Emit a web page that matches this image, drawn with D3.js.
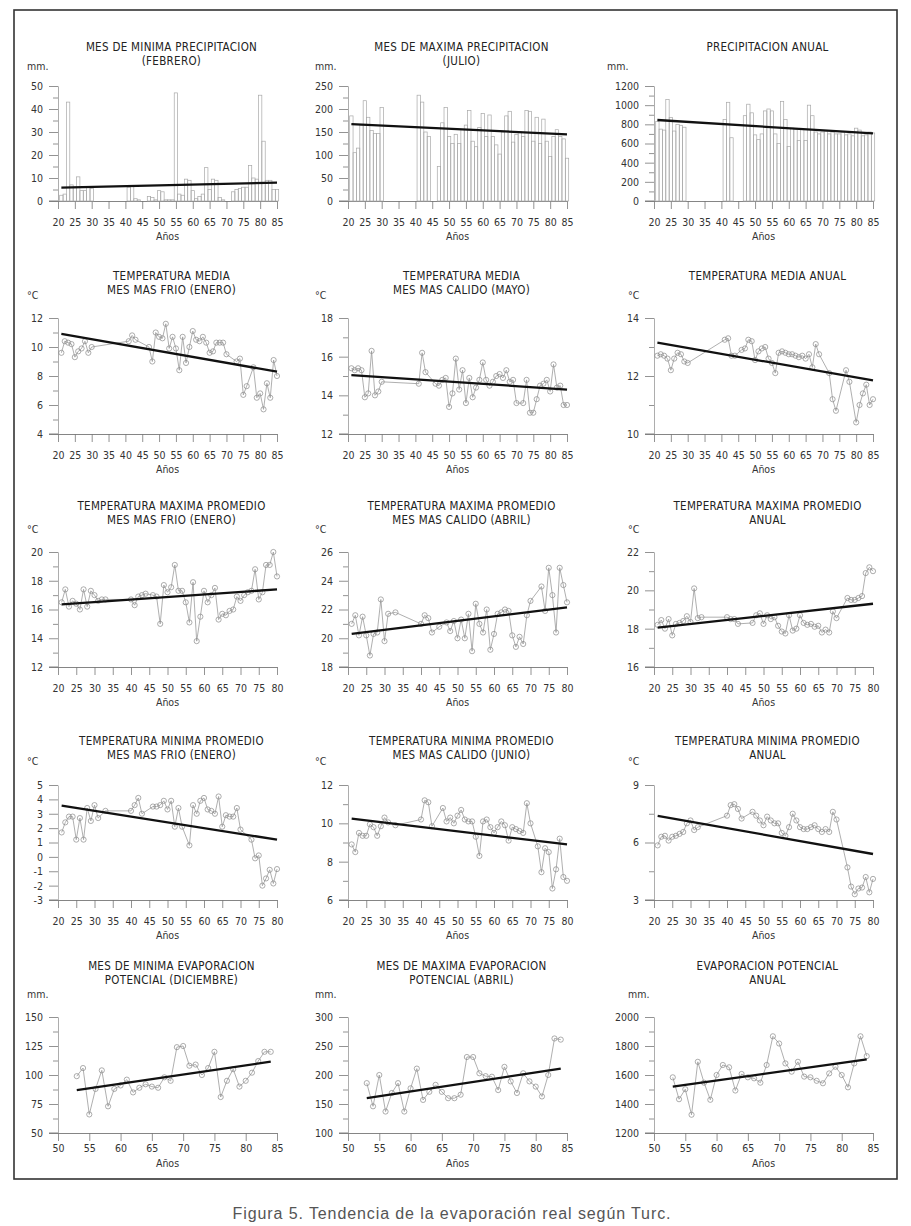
<!DOCTYPE html>
<html>
<head>
<meta charset="utf-8">
<script src="https://cdn.jsdelivr.net/npm/d3@7/dist/d3.min.js"></script>
<style>
    body { margin: 0; background: #fff; }
    svg text { font-family: "Liberation Sans Narrow", "Arial Narrow", "DejaVu Sans Condensed", sans-serif; fill: #333; }
    .title { font-size: 11.5px; fill: #222; letter-spacing: 0.3px; }
    .unit, .anos { font-size: 10.5px; }
    .tick text { font-size: 10.5px; }
    .caption { font-family: "Liberation Sans", Arial, sans-serif; font-size: 16px; fill: #555; letter-spacing: 0.9px; }
</style>
</head>
<body>
<svg width="911" height="1226"></svg>
<script>
// values (years are 19xx)

// x tick labels
const xTicks2085 = [20, 25, 30, 35, 40, 45, 50, 55, 60, 65, 70, 75, 80, 85];
const xTicks2080 = [20, 25, 30, 35, 40, 45, 50, 55, 60, 65, 70, 75, 80];
const xTicks5085 = [50, 55, 60, 65, 70, 75, 80, 85];

// row 1 - precipitation (bars)
const yrsFeb = [21, 22, 23, 24, 25, 26, 27, 28, 29, 30, 41, 42, 43, 44, 45, 46, 47, 48, 49, 50, 51, 52, 53, 54, 55, 56, 57, 58, 59, 60, 61, 62, 63, 64, 65, 66, 67, 68, 69, 70, 71, 72, 73, 74, 75, 76, 77, 78, 79, 80, 81, 82, 83, 84, 85];
const febPrecip = [2.5, 3, 43, 7, 6, 10.5, 4.5, 4.5, 6, 5.5, 6, 6.5, 1, 0.5, 0, 0, 2, 1.5, 0.5, 4.5, 4, 0.5, 0.5, 0.5, 47, 3, 2.5, 9.5, 9, 4.5, 1, 2, 3, 14.5, 5, 9.5, 9, 1.5, 0.5, 0, 0, 4, 5, 5.5, 6, 6, 15.5, 10, 9.5, 46, 26, 9, 9, 5, 5];
const trendFeb = [[21, 5.8], [85, 8.0]];
const ticksFeb = [0, 10, 20, 30, 40, 50];

const yrsJul = [21, 22, 23, 24, 25, 26, 27, 28, 29, 30, 41, 42, 43, 44, 47, 48, 49, 50, 51, 52, 53, 54, 55, 56, 57, 58, 59, 60, 61, 62, 63, 64, 65, 66, 67, 68, 69, 70, 71, 72, 73, 74, 75, 76, 77, 78, 79, 80, 81, 82, 83, 84, 85];
const julPrecip = [185, 105, 115, 165, 218, 182, 153, 147, 147, 203, 230, 215, 150, 140, 75, 170, 203, 140, 125, 145, 125, 155, 165, 197, 130, 118, 160, 190, 140, 187, 140, 122, 102, 150, 185, 195, 128, 145, 150, 140, 197, 195, 130, 182, 125, 178, 130, 97, 140, 155, 140, 135, 93];
const trendJul = [[21, 167], [85, 145]];
const ticksJul = [0, 50, 100, 150, 200, 250];

const yrsAnual = [21, 22, 23, 24, 25, 26, 27, 28, 29, 41, 42, 43, 47, 48, 49, 50, 51, 52, 53, 54, 55, 56, 57, 58, 59, 60, 61, 62, 63, 64, 65, 66, 67, 68, 69, 70, 71, 72, 73, 74, 75, 76, 77, 78, 79, 80, 81, 82, 83, 84, 85];
const anualPrecip = [830, 750, 740, 1060, 870, 730, 800, 790, 770, 850, 1030, 660, 890, 1010, 920, 690, 640, 700, 940, 960, 940, 700, 600, 1040, 850, 570, 760, 750, 630, 750, 630, 1000, 890, 720, 700, 720, 730, 700, 720, 700, 700, 720, 690, 700, 680, 760, 740, 680, 690, 720, 710];
const trendAnual = [[21, 845], [85, 705]];
const ticksAnual = [0, 200, 400, 600, 800, 1000, 1200];

// row 2 - mean temperature
const yrsT1 = [21, 22, 23, 24, 25, 26, 27, 28, 29, 30, 41, 42, 43, 47, 48, 49, 50, 51, 52, 53, 54, 55, 56, 57, 58, 59, 60, 61, 62, 63, 64, 65, 66, 67, 68, 69, 70, 73, 74, 75, 76, 78, 79, 80, 81, 82, 83, 84, 85];
const t1 = [9.6, 10.4, 10.3, 10.2, 9.3, 9.7, 9.9, 10.4, 9.6, 10.0, 10.4, 10.8, 10.5, 10.0, 9.0, 11.0, 10.7, 10.6, 11.6, 9.9, 10.7, 9.9, 8.4, 10.7, 8.9, 10.0, 11.1, 10.5, 10.4, 10.7, 10.3, 9.6, 9.7, 10.3, 10.3, 10.3, 9.5, 9.0, 9.2, 6.7, 7.3, 8.6, 6.5, 6.8, 5.7, 7.5, 6.5, 9.1, 8.0];
const trendT1 = [[21, 10.9], [85, 8.3]];
const ticksT1 = [4, 6, 8, 10, 12];

const yrsT2 = [21, 22, 23, 24, 25, 26, 27, 28, 29, 30, 41, 42, 43, 46, 47, 48, 49, 50, 51, 52, 53, 54, 55, 56, 57, 58, 59, 60, 61, 62, 63, 64, 65, 66, 67, 68, 69, 70, 72, 73, 74, 75, 76, 77, 78, 79, 80, 81, 82, 83, 84, 85];
const t2 = [15.4, 15.3, 15.4, 15.3, 13.9, 14.1, 16.3, 14.0, 14.2, 14.7, 14.6, 16.2, 15.2, 14.6, 14.5, 14.8, 14.9, 13.4, 14.1, 15.9, 14.3, 15.3, 13.6, 14.9, 13.9, 14.4, 14.8, 15.7, 14.8, 14.5, 14.7, 15.0, 15.1, 14.9, 15.3, 14.7, 14.8, 13.6, 13.6, 14.8, 13.1, 13.1, 13.8, 14.5, 14.6, 14.8, 14.2, 15.6, 14.4, 14.5, 13.5, 13.5];
const trendT2 = [[21, 15.05], [85, 14.3]];
const ticksT2 = [12, 14, 16, 18];

const yrsT3 = [21, 22, 23, 24, 25, 26, 27, 28, 29, 30, 41, 42, 43, 44, 46, 47, 48, 49, 50, 51, 52, 53, 54, 55, 56, 57, 58, 59, 60, 61, 62, 63, 64, 65, 66, 67, 68, 69, 72, 73, 74, 77, 78, 80, 81, 82, 83, 84, 85];
const t3 = [12.7, 12.75, 12.7, 12.6, 12.2, 12.6, 12.8, 12.75, 12.5, 12.45, 13.25, 13.3, 12.7, 12.7, 12.9, 12.95, 13.25, 13.2, 12.55, 12.85, 12.95, 13.0, 12.6, 12.45, 12.1, 12.8, 12.85, 12.8, 12.75, 12.75, 12.7, 12.65, 12.7, 12.6, 12.75, 12.3, 13.1, 12.75, 12.1, 11.2, 10.8, 12.2, 11.8, 10.4, 11.0, 11.4, 11.7, 11.0, 11.2];
const trendT3 = [[21, 13.15], [85, 11.85]];
const ticksT3 = [10, 12, 14];

// row 3 - mean maximum temperature
const yrsT4 = [21, 22, 23, 24, 25, 26, 27, 28, 29, 30, 31, 32, 33, 40, 41, 42, 43, 44, 46, 47, 48, 49, 50, 51, 52, 53, 54, 55, 56, 57, 58, 59, 60, 61, 62, 63, 64, 65, 66, 67, 68, 69, 70, 71, 72, 73, 74, 75, 76, 77, 78, 79, 80];
const t4 = [16.5, 17.4, 16.2, 16.6, 16.4, 16.0, 17.4, 16.2, 17.3, 17.0, 16.6, 16.7, 16.7, 16.7, 16.3, 16.9, 17.0, 17.1, 17.0, 16.9, 15.0, 17.7, 17.2, 17.55, 19.1, 17.3, 17.3, 16.5, 15.1, 17.9, 13.8, 15.5, 17.3, 16.5, 17.0, 17.5, 15.3, 15.7, 15.6, 15.9, 16.0, 16.9, 16.6, 17.0, 17.2, 17.3, 18.8, 16.7, 17.2, 19.1, 19.1, 20.0, 18.3];
const trendT4 = [[21, 16.35], [80, 17.4]];
const ticksT4 = [12, 14, 16, 18, 20];

const yrsT5 = [21, 22, 23, 24, 25, 26, 27, 28, 29, 30, 31, 33, 40, 41, 42, 43, 45, 47, 48, 49, 50, 51, 52, 53, 54, 55, 56, 57, 58, 59, 60, 61, 62, 63, 64, 65, 66, 67, 68, 69, 70, 73, 74, 75, 76, 77, 78, 79, 80];
const t5 = [21.0, 21.6, 20.2, 21.5, 20.2, 18.8, 20.3, 20.4, 22.7, 19.8, 21.7, 21.8, 21.0, 21.6, 21.4, 20.4, 20.8, 21.1, 20.5, 21.2, 20.0, 21.3, 20.0, 21.7, 19.1, 22.4, 21.0, 20.4, 22.0, 19.2, 20.3, 21.7, 21.8, 22.0, 21.9, 20.2, 19.4, 20.1, 19.6, 21.6, 22.6, 23.6, 21.9, 24.9, 23.0, 20.4, 24.9, 23.7, 22.5];
const trendT5 = [[21, 20.3], [80, 22.15]];
const ticksT5 = [18, 20, 22, 24, 26];

const yrsT6 = [21, 22, 23, 24, 25, 26, 27, 28, 29, 30, 31, 32, 33, 40, 41, 42, 43, 47, 48, 49, 50, 51, 52, 53, 54, 55, 56, 57, 58, 59, 60, 61, 62, 63, 64, 65, 66, 67, 68, 69, 70, 73, 74, 75, 76, 77, 78, 79, 80];
const t6 = [18.2, 18.45, 18.0, 18.5, 17.65, 18.25, 18.3, 18.4, 18.65, 18.35, 20.1, 18.55, 18.6, 18.6, 18.5, 18.5, 18.25, 18.3, 18.7, 18.8, 18.25, 18.7, 18.5, 18.6, 18.15, 17.85, 17.75, 18.7, 17.9, 18.0, 18.7, 18.3, 18.2, 18.25, 18.1, 18.15, 17.8, 17.95, 17.8, 18.9, 18.55, 19.6, 19.5, 19.5, 19.6, 19.7, 20.9, 21.2, 21.0];
const trendT6 = [[21, 18.05], [80, 19.3]];
const ticksT6 = [16, 18, 20, 22];

// row 4 - mean minimum temperature
const yrsT7 = [21, 22, 23, 24, 25, 26, 27, 28, 29, 30, 31, 33, 40, 41, 42, 43, 46, 47, 48, 49, 50, 51, 52, 53, 54, 56, 57, 58, 59, 60, 61, 62, 63, 64, 65, 66, 67, 68, 69, 70, 73, 74, 75, 76, 77, 78, 79, 80];
const t7 = [1.7, 2.4, 2.8, 2.8, 1.2, 2.7, 1.2, 3.4, 2.5, 3.6, 2.7, 3.2, 3.2, 3.6, 4.1, 3.0, 3.5, 3.5, 3.6, 3.9, 3.3, 3.9, 2.1, 3.4, 2.1, 0.8, 3.6, 3.0, 3.9, 4.1, 3.3, 3.2, 3.0, 4.2, 2.1, 2.9, 2.8, 2.8, 3.4, 1.9, 1.2, -0.1, 0.1, -2.0, -1.5, -0.9, -1.85, -0.85];
const trendT7 = [[21, 3.56], [80, 1.2]];
const ticksT7 = [-3, -2, -1, 0, 1, 2, 3, 4, 5];

const yrsT8 = [21, 22, 23, 24, 25, 26, 27, 28, 29, 30, 31, 33, 40, 41, 42, 43, 46, 47, 48, 49, 50, 51, 52, 53, 54, 55, 56, 57, 58, 59, 60, 61, 62, 63, 64, 65, 66, 67, 68, 69, 70, 72, 73, 74, 75, 76, 77, 78, 79, 80];
const t8 = [8.9, 8.5, 9.5, 9.35, 9.35, 9.95, 9.8, 9.35, 9.85, 10.3, 10.05, 9.9, 10.2, 11.2, 11.1, 9.85, 10.8, 10.1, 10.3, 10.0, 10.4, 10.7, 10.2, 10.1, 10.1, 9.3, 8.3, 10.1, 10.2, 9.8, 9.5, 9.8, 10.1, 9.9, 9.1, 9.8, 9.7, 9.6, 9.5, 11.05, 10.0, 8.8, 7.45, 8.7, 8.5, 6.6, 7.6, 9.2, 7.2, 7.0];
const trendT8 = [[21, 10.25], [80, 8.9]];
const ticksT8 = [6, 8, 10, 12];

const yrsT9 = [21, 22, 23, 24, 25, 26, 27, 28, 29, 30, 31, 32, 40, 41, 42, 43, 44, 47, 48, 49, 50, 51, 52, 53, 54, 55, 56, 57, 58, 59, 60, 61, 62, 63, 64, 65, 66, 67, 68, 69, 70, 73, 74, 75, 76, 77, 78, 79, 80];
const t9 = [5.85, 6.3, 6.35, 6.1, 6.3, 6.35, 6.45, 6.55, 7.0, 7.15, 6.65, 6.8, 7.4, 7.95, 8.0, 7.75, 7.25, 7.6, 7.4, 7.15, 6.9, 7.35, 7.15, 7.0, 7.0, 6.5, 6.35, 6.8, 7.5, 7.15, 6.8, 6.7, 6.7, 6.8, 6.9, 6.7, 6.55, 6.7, 6.55, 7.6, 7.2, 4.7, 3.7, 3.3, 3.6, 3.65, 4.2, 3.4, 4.1];
const trendT9 = [[21, 7.39], [80, 5.4]];
const ticksT9 = [3, 6, 9];

// row 5 - potential evaporation
const yrsEvap = [53, 54, 55, 56, 57, 58, 59, 60, 61, 62, 63, 64, 65, 66, 67, 68, 69, 70, 71, 72, 73, 74, 75, 76, 77, 78, 79, 80, 81, 82, 83, 84];
const e1 = [99, 106, 66, 88, 104, 73, 88, 91, 96, 85, 89, 92, 90, 89, 98, 95, 124, 125, 108, 109, 100, 106, 120, 81, 95, 105, 90, 95, 102, 112, 120, 120];
const trendE1 = [[53, 87], [84, 111.5]];
const ticksE1 = [50, 75, 100, 125, 150];

const e2 = [186, 146, 200, 137, 169, 186, 137, 177, 211, 157, 171, 183, 171, 160, 160, 166, 231, 231, 203, 198, 197, 174, 214, 189, 169, 203, 189, 180, 163, 200, 263, 261];
const trendE2 = [[53, 160], [84, 211]];
const ticksE2 = [100, 150, 200, 250, 300];

const e3 = [1584, 1433, 1502, 1326, 1691, 1547, 1429, 1600, 1669, 1653, 1493, 1607, 1584, 1577, 1547, 1669, 1867, 1817, 1680, 1623, 1691, 1589, 1584, 1560, 1543, 1611, 1657, 1600, 1515, 1680, 1867, 1730];
const trendE3 = [[53, 1520], [84, 1707]];
const ticksE3 = [1200, 1400, 1600, 1800, 2000];

// layout of the 5 x 3 grid
const colX = [58, 348, 654];
const plotW = 219;
const rowTop = [86, 318, 552, 785, 1017];
const rowBottom = [201, 434, 667, 900, 1133];
const titleY = [47, 276, 506, 741, 966];
const titleGap = 13.5;
const unitY = [66, 295, 529, 761, 994];
const unitDx = [-31, -33, -26];
const xLabelPad = [10, 10, 10, 10, 4];
const anosDy = [35, 35, 35, 35, 30];

const panels = [
    { title: ["MES DE MINIMA PRECIPITACION", "(FEBRERO)"], unit: "mm.", kind: "bar", xt: xTicks2085, yrs: yrsFeb, vals: febPrecip, trend: trendFeb, yt: ticksFeb },
    { title: ["MES DE MAXIMA PRECIPITACION", "(JULIO)"], unit: "mm.", kind: "bar", xt: xTicks2085, yrs: yrsJul, vals: julPrecip, trend: trendJul, yt: ticksJul },
    { title: ["PRECIPITACION ANUAL"], unit: "mm.", kind: "bar", xt: xTicks2085, yrs: yrsAnual, vals: anualPrecip, trend: trendAnual, yt: ticksAnual, udx: -47 },
    { title: ["TEMPERATURA MEDIA", "MES MAS FRIO (ENERO)"], unit: "°C", kind: "line", xt: xTicks2085, yrs: yrsT1, vals: t1, trend: trendT1, yt: ticksT1 },
    { title: ["TEMPERATURA MEDIA", "MES MAS CALIDO (MAYO)"], unit: "°C", kind: "line", xt: xTicks2085, yrs: yrsT2, vals: t2, trend: trendT2, yt: ticksT2 },
    { title: ["TEMPERATURA MEDIA ANUAL"], unit: "°C", kind: "line", xt: xTicks2085, yrs: yrsT3, vals: t3, trend: trendT3, yt: ticksT3 },
    { title: ["TEMPERATURA MAXIMA PROMEDIO", "MES MAS FRIO (ENERO)"], unit: "°C", kind: "line", xt: xTicks2080, yrs: yrsT4, vals: t4, trend: trendT4, yt: ticksT4 },
    { title: ["TEMPERATURA MAXIMA PROMEDIO", "MES MAS CALIDO (ABRIL)"], unit: "°C", kind: "line", xt: xTicks2080, yrs: yrsT5, vals: t5, trend: trendT5, yt: ticksT5 },
    { title: ["TEMPERATURA MAXIMA PROMEDIO", "ANUAL"], unit: "°C", kind: "line", xt: xTicks2080, yrs: yrsT6, vals: t6, trend: trendT6, yt: ticksT6 },
    { title: ["TEMPERATURA MINIMA PROMEDIO", "MES MAS FRIO (ENERO)"], unit: "°C", kind: "line", xt: xTicks2080, yrs: yrsT7, vals: t7, trend: trendT7, yt: ticksT7, noMinor: true },
    { title: ["TEMPERATURA MINIMA PROMEDIO", "MES MAS CALIDO (JUNIO)"], unit: "°C", kind: "line", xt: xTicks2080, yrs: yrsT8, vals: t8, trend: trendT8, yt: ticksT8 },
    { title: ["TEMPERATURA MINIMA PROMEDIO", "ANUAL"], unit: "°C", kind: "line", xt: xTicks2080, yrs: yrsT9, vals: t9, trend: trendT9, yt: ticksT9 },
    { title: ["MES DE MINIMA EVAPORACION", "POTENCIAL (DICIEMBRE)"], unit: "mm.", kind: "line", xt: xTicks5085, yrs: yrsEvap, vals: e1, trend: trendE1, yt: ticksE1 },
    { title: ["MES DE MAXIMA EVAPORACION", "POTENCIAL (ABRIL)"], unit: "mm.", kind: "line", xt: xTicks5085, yrs: yrsEvap, vals: e2, trend: trendE2, yt: ticksE2 },
    { title: ["EVAPORACION POTENCIAL", "ANUAL"], unit: "mm.", kind: "line", xt: xTicks5085, yrs: yrsEvap, vals: e3, trend: trendE3, yt: ticksE3 }
];

const svg = d3.select("svg");

// scanned page frame
svg.append("rect")
    .attr("x", 14).attr("y", 10)
    .attr("width", 883).attr("height", 1169)
    .attr("fill", "none").attr("stroke", "#333").attr("stroke-width", 1.6);

function styleAxis(sel) {
    sel.attr("font-family", null).attr("font-size", null);
    sel.select(".domain").attr("stroke", "#aaa").attr("stroke-width", 0.8);
    sel.selectAll(".tick line").attr("stroke", "#777").attr("stroke-width", 0.8);
}

function drawPanel(p, i) {
    const row = Math.floor(i / 3), col = i % 3;
    const x0 = colX[col], top = rowTop[row], bot = rowBottom[row];
    const x = d3.scaleLinear().domain(d3.extent(p.xt)).range([x0, x0 + plotW]);
    const y = d3.scaleLinear().domain(d3.extent(p.yt)).range([bot, top]);
    const g = svg.append("g");
    const cx = x0 + plotW / 2;

    p.title.forEach((t, k) => {
        g.append("text").attr("class", "title")
            .attr("x", cx + 4).attr("y", titleY[row] + k * titleGap)
            .attr("dy", "0.35em").attr("text-anchor", "middle")
            .text(t);
    });
    g.append("text").attr("class", "unit")
        .attr("x", x0 + (p.udx !== undefined ? p.udx : unitDx[col]))
        .attr("y", unitY[row]).attr("dy", "0.35em")
        .text(p.unit);

    // y axis with minor ticks half way between the labelled ones
    if (!p.noMinor) {
        const minor = d3.pairs(p.yt).map(d => (d[0] + d[1]) / 2);
        g.append("g").attr("transform", `translate(${x0},0)`)
            .call(d3.axisLeft(y).tickValues(minor).tickSize(5).tickSizeOuter(0).tickFormat(""))
            .call(styleAxis);
    }
    g.append("g").attr("transform", `translate(${x0},0)`)
        .call(d3.axisLeft(y).tickValues(p.yt).tickSize(9).tickSizeOuter(0).tickPadding(6).tickFormat(d => String(d)))
        .call(styleAxis);

    // x axis, its line runs on to the left under the y ticks
    g.append("g").attr("transform", `translate(0,${bot})`)
        .call(d3.axisBottom(x).tickValues(p.xt).tickSize(8).tickSizeOuter(0).tickPadding(xLabelPad[row]).tickFormat(d => String(d)))
        .call(styleAxis)
        .call(s => s.select(".domain").attr("stroke", "#666"));
    g.append("line")
        .attr("x1", x0 - 9).attr("x2", x0).attr("y1", bot).attr("y2", bot)
        .attr("stroke", "#666").attr("stroke-width", 0.8);
    g.append("text").attr("class", "anos")
        .attr("x", cx).attr("y", bot + anosDy[row]).attr("dy", "0.35em")
        .attr("text-anchor", "middle")
        .text("Años");

    const pts = d3.zip(p.yrs, p.vals);
    if (p.kind === "bar") {
        const bw = x(1) - x(0);
        g.selectAll(".bar")
            .data(pts)
            .enter().append("rect")
            .attr("class", "bar")
            .attr("x", d => x(d[0]) - bw / 2)
            .attr("y", d => y(d[1]))
            .attr("width", bw)
            .attr("height", d => y(0) - y(d[1]))
            .attr("fill", "none")
            .attr("stroke", "#a8a8a8")
            .attr("stroke-width", 0.7);
    } else {
        g.append("path")
            .datum(pts)
            .attr("d", d3.line().x(d => x(d[0])).y(d => y(d[1])))
            .attr("fill", "none")
            .attr("stroke", "#9a9a9a")
            .attr("stroke-width", 0.8);
        g.selectAll(".pt")
            .data(pts)
            .enter().append("circle")
            .attr("class", "pt")
            .attr("cx", d => x(d[0]))
            .attr("cy", d => y(d[1]))
            .attr("r", 2.6)
            .attr("fill", "none")
            .attr("stroke", "#8a8a8a")
            .attr("stroke-width", 0.7);
    }

    g.append("path")
        .datum(p.trend)
        .attr("d", d3.line().x(d => x(d[0])).y(d => y(d[1])))
        .attr("fill", "none")
        .attr("stroke", "#111")
        .attr("stroke-width", 2.3);
}

panels.forEach(drawPanel);

svg.append("text").attr("class", "caption")
    .attr("x", 452).attr("y", 1213)
    .attr("dy", "0.35em").attr("text-anchor", "middle")
    .text("Figura 5. Tendencia de la evaporación real según Turc.");
</script>
</body>
</html>
